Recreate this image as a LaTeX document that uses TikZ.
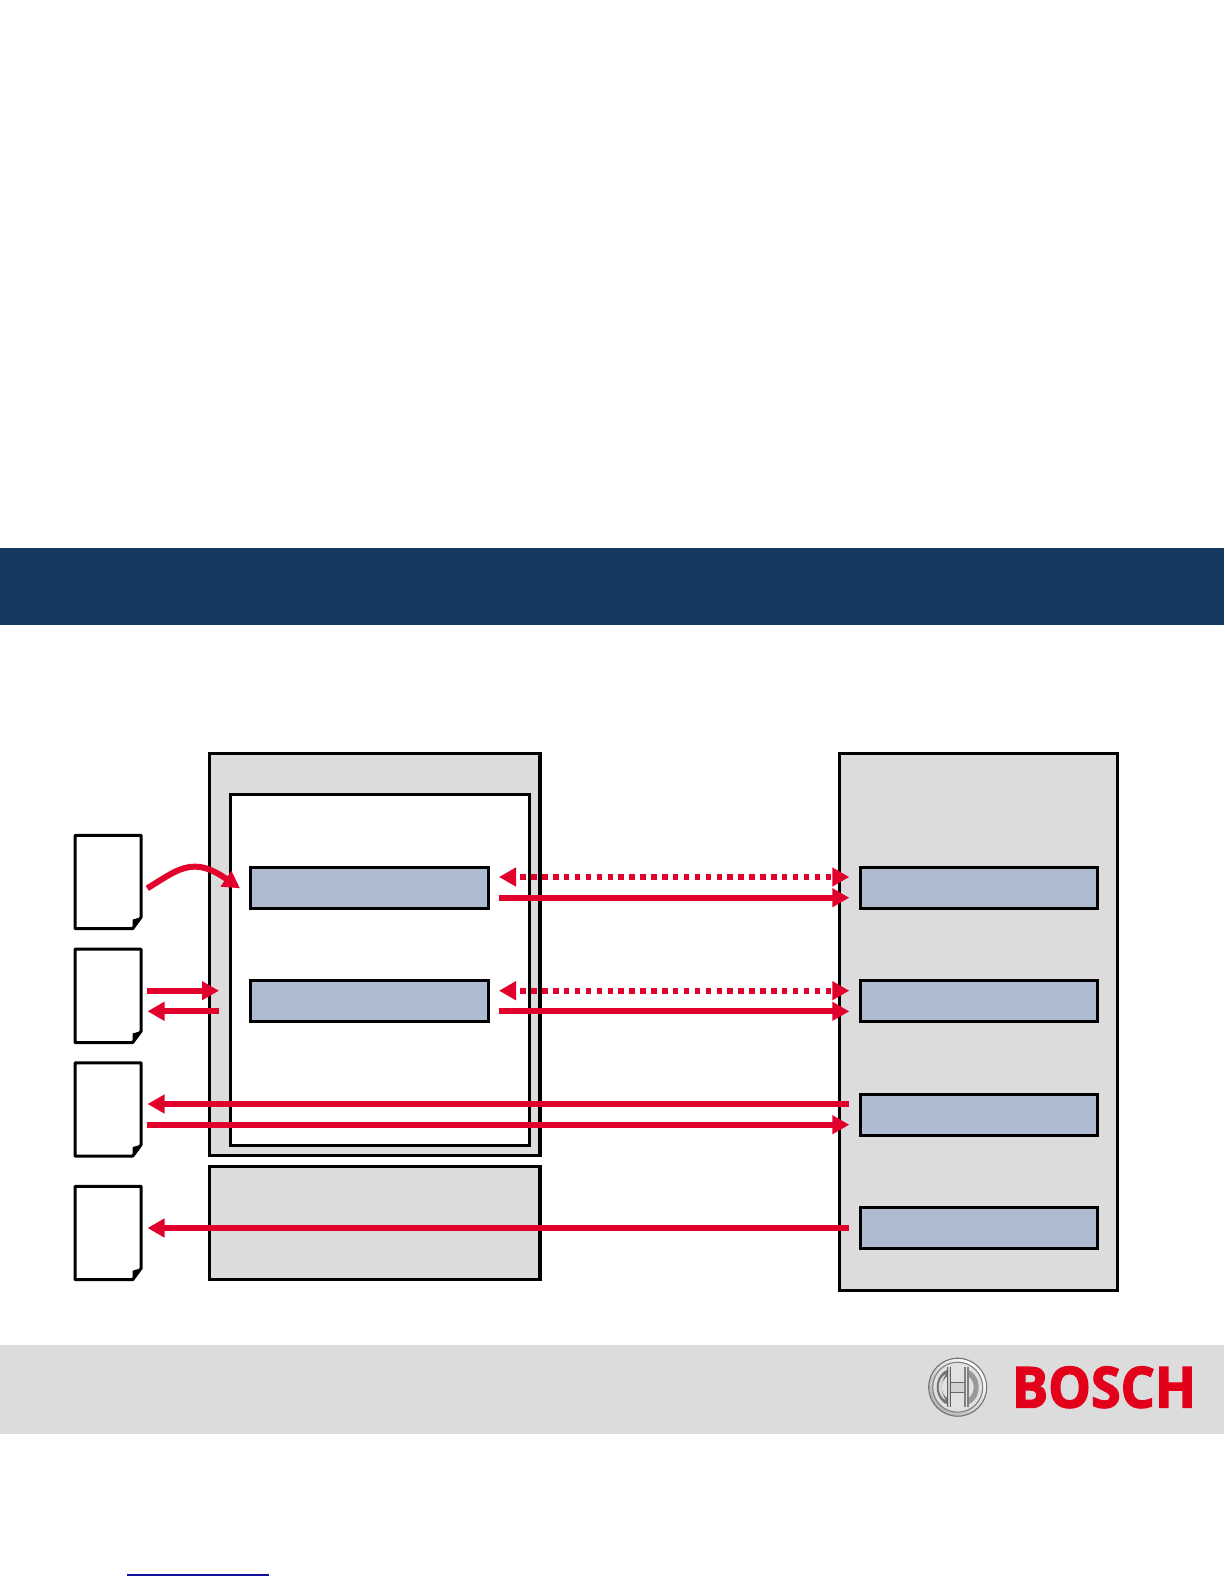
\documentclass[tikz,border=0pt]{standalone}
\usepackage{fontspec}
\setmainfont{Open Sans}
\usetikzlibrary{arrows.meta,calc}
\definecolor{bannerblue}{HTML}{143A61}
\definecolor{panelgrey}{HTML}{DCDCDC}
\definecolor{slateblue}{HTML}{AEBBD0}
\definecolor{flowred}{HTML}{E2002C}
\definecolor{brandred}{HTML}{E2001A}
\definecolor{linkblue}{HTML}{1010A0}
\tikzset{
  band/.style={draw=none,inner sep=0pt,outer sep=0pt,anchor=north west,minimum width=1224pt},
  panel/.style={draw=black,line width=3.4pt,fill=panelgrey,inner sep=0pt,outer sep=0pt,anchor=north west},
  innerpanel/.style={draw=black,line width=3.2pt,fill=white,inner sep=0pt,outer sep=0pt,anchor=north west},
  unitbox/.style={draw=black,line width=3.4pt,fill=slateblue,inner sep=0pt,outer sep=0pt,anchor=north west,minimum height=41.2pt},
  sheet/.style={draw=none,fill=none,inner sep=0pt,outer sep=0pt,anchor=north west,minimum width=66.2pt,minimum height=93.3pt},
  flow/.style={draw=flowred,line width=6pt,line cap=butt,-{Triangle[length=17pt,width=18pt,fill=flowred]}},
  dualflow/.style={draw=flowred,line width=6pt,line cap=butt,dash pattern=on 5.5pt off 5.4pt,dash phase=5.5pt,
    {Triangle[length=17pt,width=18pt,fill=flowred]}-{Triangle[length=17pt,width=18pt,fill=flowred]}},
}
\begin{document}
\begin{tikzpicture}[x=1pt,y=-1pt]
\useasboundingbox (0,0) rectangle (1224,1584);
\fill[white] (0,0) rectangle (1224,1584);
% bands
\node[band,fill=bannerblue,minimum height=76.5pt] (banner) at (0,548) {};
\node[band,fill=panelgrey,minimum height=88.5pt] (footer) at (0,1345) {};
% panels
\node[panel,minimum width=330.2pt,minimum height=402.2pt] (outerA) at (209.6,753.5) {};
\node[innerpanel,minimum width=299.4pt,minimum height=351pt] (innerA) at (230.3,794.3) {};
\node[panel,minimum width=330.2pt,minimum height=113pt] (lowerA) at (209.6,1166.3) {};
\node[panel,minimum width=278pt,minimum height=536.8pt] (rightB) at (839.7,753.5) {};
% unit boxes
\node[unitbox,minimum width=237.8pt] (l1) at (250.6,867.3) {};
\node[unitbox,minimum width=237.8pt] (l2) at (250.6,980.4) {};
\node[unitbox,minimum width=237.4pt] (r1) at (860.3,867.3) {};
\node[unitbox,minimum width=237.4pt] (r2) at (860.3,980.4) {};
\node[unitbox,minimum width=237.4pt] (r3) at (860.3,1094.2) {};
\node[unitbox,minimum width=237.4pt] (r4) at (860.3,1207.3) {};
% sheets
\foreach \nm/\tp in {d1/835.3,d2/949.2,d3/1062.8,d4/1186.4}{
  \node[sheet] (\nm) at (75,\tp) {};
  \draw[black,line width=3pt,line join=round,fill=white]
    (\nm.north west) -- (\nm.north east) -- ([yshift=11.5pt]\nm.south east)
    -- ([xshift=-8.5pt]\nm.south east) -- (\nm.south west) -- cycle;
  \fill[black] ([yshift=11.5pt]\nm.south east) -- ([xshift=-8.5pt,yshift=9pt]\nm.south east)
    -- ([xshift=-8.5pt]\nm.south east) -- cycle;
}
% connector ends
\coordinate (lx1) at (147.3,888.3);
\coordinate (ax1) at (240,888.3);
\coordinate (cp) at (195,866.6);
\coordinate (lx2a) at (147.3,990.7);
\coordinate (ax2a) at (219,990.7);
\coordinate (ax2b) at (219,1011.3);
\coordinate (lx2b) at (147.5,1011.3);
\coordinate (lx3a) at (147.5,1104);
\coordinate (bx3a) at (849.3,1104);
\coordinate (lx3b) at (147.3,1124.7);
\coordinate (bx3b) at (849.3,1124.7);
\coordinate (lx4) at (147.5,1228);
\coordinate (bx4) at (849.3,1228);
\coordinate (a1d) at (499,877);
\coordinate (b1d) at (849.3,877);
\coordinate (a1s) at (498.5,897.7);
\coordinate (b1s) at (849.3,897.7);
\coordinate (a2d) at (499,990.7);
\coordinate (b2d) at (849.3,990.7);
\coordinate (a2s) at (498.5,1011.3);
\coordinate (b2s) at (849.3,1011.3);
% connectors
\draw[flow] (lx1) .. controls (168,875.5) and (180,866.6) .. (cp) .. controls (209,866.6) and (222,876) .. (ax1);
\draw[flow] (lx2a) -- (ax2a);
\draw[flow] (ax2b) -- (lx2b);
\draw[flow] (bx3a) -- (lx3a);
\draw[flow] (lx3b) -- (bx3b);
\draw[flow] (bx4) -- (lx4);
\draw[dualflow] (a1d) -- (b1d);
\draw[flow] (a1s) -- (b1s);
\draw[dualflow] (a2d) -- (b2d);
\draw[flow] (a2s) -- (b2s);
% emblem
\coordinate (em) at (957.7,1387.2);
\shade[left color=white,right color=gray!60,shading angle=-45] (em) circle (29.2pt);
\draw[black!55,line width=1.1pt] (em) circle (29pt);
\fill[panelgrey!85!white] (em) circle (25pt);
\draw[black!50,line width=1.1pt] (em) circle (25pt);
\begin{scope}[shift={(em)}]
  \fill[black!55] (-21,0) .. controls (-21,-10) and (-15,-16) .. (-9,-18) -- (-9,-12) .. controls (-14,-9) and (-16,-5) .. (-16,0) .. controls (-16,5) and (-14,9) .. (-9,12) -- (-9,18) .. controls (-15,16) and (-21,10) .. (-21,0) -- cycle;
  \fill[black!40] (21,0) .. controls (21,-10) and (15,-16) .. (9,-18) -- (9,-12) .. controls (14,-9) and (16,-5) .. (16,0) .. controls (16,5) and (14,9) .. (9,12) -- (9,18) .. controls (15,16) and (21,10) .. (21,0) -- cycle;
  \fill[white!85!black] (-19,0) .. controls (-19,-6) and (-16,-11) .. (-12,-13) .. controls (-15,-8) and (-16,-4) .. (-16,0) .. controls (-16,4) and (-15,8) .. (-12,13) .. controls (-16,11) and (-19,6) .. (-19,0) -- cycle;
  \fill[black!62] (-11,-20) rectangle (-6.5,20);
  \fill[black!50] (6.5,-20) rectangle (11,20);
  \fill[white!80!black] (-9.5,-20) rectangle (-8,20);
  \fill[white!90!black] (8,-20) rectangle (9.5,20);
  \fill[black!18] (-6.5,-5) rectangle (6.5,5);
  \draw[black!60,line width=1.3pt] (-6.5,-5) -- (6.5,-5) (-6.5,5) -- (6.5,5);
\end{scope}
% wordmark
\node[inner sep=0pt,outer sep=0pt,anchor=base west,text=brandred] (brand) at (1012,1407.5)
  {\resizebox{184pt}{41pt}{\fontspec{Open Sans}[FakeBold=2.5]\bfseries BOSCH}};
% link underline
\coordinate (ula) at (127,1575);
\coordinate (ulb) at (269,1575);
\draw[linkblue,line width=1.4pt] (ula) -- (ulb);
\end{tikzpicture}
\end{document}
